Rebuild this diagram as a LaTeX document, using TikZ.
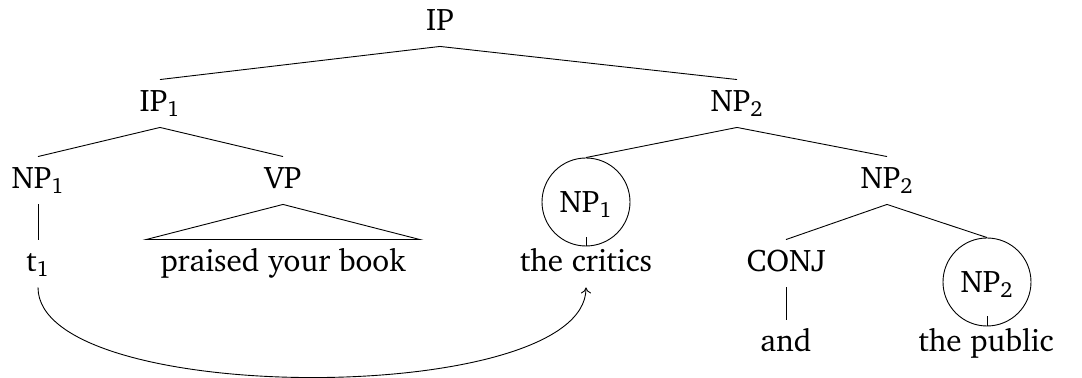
\documentclass[tikz,border=0pt]{standalone}
\usepackage[T1]{fontenc}
\usepackage{charter}
\usetikzlibrary{arrows.meta}
\begin{document}
\begin{tikzpicture}[x=0.5pt,y=-0.5pt,line width=0.45pt,
  lab/.style={anchor=base,inner xsep=2pt,inner ysep=5pt,text height=11pt,text depth=2.5pt,font=\fontsize{15.6}{18}\selectfont},
  circ/.style={circle,draw,minimum size=44pt,inner sep=0pt,text height=11pt,text depth=0pt,font=\fontsize{15.6}{18}\selectfont},
  tip/.style={-{To[length=3pt,width=5pt]}}]
\useasboundingbox (0,0) rectangle (1082,378);
% labels of the tree
\node[lab] (ip)   at (440,31)  {IP};
\node[lab] (ip1)  at (160,112) {IP\textsubscript{1}};
\node[lab] (np2a) at (737,112) {NP\textsubscript{2}};
\node[lab] (np1)  at (38,189)  {NP\textsubscript{1}};
\node[lab] (vp)   at (283,189) {VP};
\node[lab] (np2b) at (887,189) {NP\textsubscript{2}};
\node[lab] (t1)   at (38,272)  {t\textsubscript{1}};
\node[lab,inner xsep=7pt] (pyb) at (283,272) {praised your book};
\node[lab] (crit) at (586,272) {the critics};
\node[lab] (conj) at (786,272) {CONJ};
\node[lab] (and)  at (786,352) {and};
\node[lab] (pub)  at (986,352) {the public};
% circled constituents
\node[circ] (c1) at (586,202) {NP\textsubscript{1}};
\node[circ] (c2) at (987,282) {NP\textsubscript{2}};
% branches
\draw (ip.south) -- (ip1.north);
\draw (ip.south) -- (np2a.north);
\draw (ip1.south) -- (np1.north);
\draw (ip1.south) -- (vp.north);
\draw (np2a.south) -- (c1.north);
\draw (np2a.south) -- (np2b.north);
\draw (np1.south) -- (t1.north);
\draw (vp.south) -- (pyb.north east) -- (pyb.north west) -- cycle;
\draw (c1.south) -- ([yshift=4.5pt]c1.south);
\draw (np2b.south) -- (conj.north);
\draw (np2b.south) -- (c2.north);
\draw (conj.south) -- (and.north);
\draw (c2.south) -- ([yshift=5pt]c2.south);
% movement arrow
\draw[tip] (t1.south) .. controls ([yshift=-60pt]t1.south) and ([yshift=-60pt]crit.south) .. (crit.south);
\end{tikzpicture}
\end{document}
